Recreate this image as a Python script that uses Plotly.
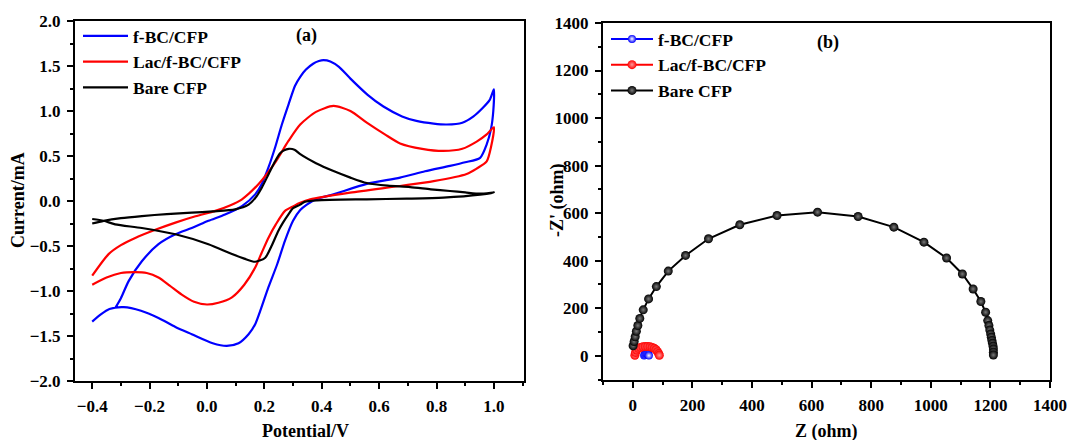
import plotly.graph_objects as go

# ---------------- (a) cyclic voltammetry data ----------------
fbc_x = [-0.32, -0.30, -0.273, -0.227, -0.169, -0.11, -0.053, 0.005, 0.063, 0.122, 0.168, 0.191, 0.214,
         0.238, 0.261, 0.285, 0.307, 0.325, 0.345, 0.37, 0.39, 0.406, 0.43, 0.46, 0.50, 0.56, 0.615, 0.68,
         0.73, 0.79, 0.836, 0.89, 0.929, 0.96, 0.985, 1.0,
         0.998, 0.99, 0.975, 0.952, 0.90, 0.847, 0.76, 0.673, 0.557, 0.441, 0.38, 0.348, 0.325, 0.30,
         0.272, 0.245, 0.214, 0.168, 0.145, 0.11, 0.069, 0.02, -0.053, -0.11, -0.169, -0.23, -0.29,
         -0.34, -0.37, -0.40]
fbc_y = [-1.19, -1.08, -0.89, -0.67, -0.48, -0.37, -0.30, -0.22, -0.15, -0.056, 0.074, 0.19, 0.37,
         0.60, 0.85, 1.08, 1.28, 1.38, 1.46, 1.525, 1.555, 1.565, 1.55, 1.49, 1.36, 1.18, 1.05, 0.94,
         0.89, 0.86, 0.85, 0.87, 0.94, 1.03, 1.12, 1.24,
         1.00, 0.80, 0.63, 0.48, 0.43, 0.39, 0.33, 0.26, 0.19, 0.074, 0.02, -0.04, -0.10, -0.22,
         -0.44, -0.70, -0.96, -1.37, -1.48, -1.58, -1.61, -1.58, -1.48, -1.40, -1.30, -1.22, -1.18,
         -1.20, -1.26, -1.34]

lac_x = [-0.40, -0.343, -0.30, -0.25, -0.18, -0.11, -0.04, 0.029, 0.08, 0.122, 0.18, 0.238, 0.284,
         0.325, 0.38, 0.441, 0.50, 0.557, 0.62, 0.673, 0.75, 0.824, 0.89, 0.94, 0.975, 1.0,
         0.99, 0.975, 0.94, 0.905, 0.79, 0.673, 0.499, 0.36, 0.325, 0.30, 0.272, 0.24, 0.214, 0.19,
         0.168, 0.13, 0.087, 0.04, 0.0, -0.045, -0.088, -0.13, -0.169, -0.21, -0.25, -0.30, -0.35, -0.40]
lac_y = [-0.83, -0.59, -0.49, -0.41, -0.32, -0.24, -0.17, -0.11, -0.05, 0.019, 0.19, 0.43, 0.667,
         0.85, 0.99, 1.056, 1.00, 0.87, 0.74, 0.64, 0.58, 0.556, 0.58, 0.66, 0.74, 0.82,
         0.60, 0.44, 0.36, 0.30, 0.22, 0.167, 0.093, 0.019, -0.02, -0.06, -0.11, -0.26, -0.41, -0.58,
         -0.74, -0.93, -1.07, -1.13, -1.15, -1.12, -1.04, -0.94, -0.85, -0.80, -0.79, -0.80, -0.85, -0.93]

bare_x = [-0.40, -0.36, -0.30, -0.227, -0.14, -0.053, 0.02, 0.098, 0.145, 0.17, 0.191, 0.215, 0.238,
          0.255, 0.267, 0.285, 0.305, 0.325, 0.38, 0.441, 0.50, 0.557, 0.63, 0.708, 0.78, 0.847, 0.90,
          0.952, 1.0,
          0.952, 0.824, 0.696, 0.557, 0.383, 0.34, 0.325, 0.30, 0.284, 0.265, 0.249, 0.225, 0.203,
          0.168, 0.13, 0.087, 0.005, -0.11, -0.227, -0.32, -0.36, -0.40]
bare_y = [-0.25, -0.22, -0.19, -0.167, -0.145, -0.13, -0.115, -0.093, -0.04, 0.04, 0.148, 0.30, 0.444,
          0.53, 0.56, 0.58, 0.57, 0.52, 0.42, 0.333, 0.26, 0.20, 0.17, 0.155, 0.13, 0.111, 0.095,
          0.081, 0.095,
          0.07, 0.037, 0.026, 0.019, 0.007, -0.01, -0.04, -0.08, -0.148, -0.24, -0.33, -0.50, -0.63,
          -0.675, -0.64, -0.59, -0.48, -0.37, -0.30, -0.26, -0.22, -0.20]

# ---------------- (b) Nyquist data ----------------
eis_fbc_z = [38, 40, 43, 46, 49, 52, 54]
eis_fbc_zi = [1, 5, 8, 9, 8, 5, 1]

eis_lac_z = [7, 9, 13, 19, 26, 34, 42, 50, 58, 65, 72, 78, 83, 87, 89]
eis_lac_zi = [2, 14, 24, 31, 35, 38, 39, 39, 38, 35, 31, 25, 17, 9, 2]

eis_bare_z = [1, 4.5, 8, 12, 17, 23.5, 35, 53, 79, 119, 177, 254, 359, 484, 620, 756, 876, 977, 1053,
              1106, 1142, 1168, 1184, 1191, 1195, 1198, 1201, 1203, 1205, 1207, 1209, 1210, 1210, 1210]
eis_bare_zi = [42, 60, 80, 103, 127, 157, 193, 239, 291, 356, 422, 492, 551, 590, 604, 586, 541, 478, 411,
               344, 281, 228, 183, 148, 127, 108, 91, 78, 64, 52, 40, 28, 15, 3]

series_names = ["f-BC/CFP", "Lac/f-BC/CFP", "Bare CFP"]
colors = ["#0000ff", "#ff0000", "#000000"]

FONT = "Liberation Serif, Times New Roman, serif"

fig = go.Figure()

cv_data = [(fbc_x, fbc_y), (lac_x, lac_y), (bare_x, bare_y)]
for (xs, ys), name, c in zip(cv_data, series_names, colors):
    fig.add_trace(go.Scatter(x=xs, y=ys, mode="lines", name=name,
                             line=dict(color=c, width=2.2, shape="spline", smoothing=0.7),
                             xaxis="x", yaxis="y", legend="legend"))

eis_data = [(eis_fbc_z, eis_fbc_zi), (eis_lac_z, eis_lac_zi), (eis_bare_z, eis_bare_zi)]
centers = ["#ffffff", "#ff9a9a", "#7a7a7a"]
sizes = [8, 9, 9]
for (xs, ys), name, c, cc, s in zip(eis_data, series_names, colors, centers, sizes):
    fig.add_trace(go.Scatter(x=xs, y=ys, mode="lines+markers", name=name,
                             line=dict(color=c, width=2),
                             marker=dict(color=c, size=s, line=dict(width=0),
                                         gradient=dict(type="radial", color=cc)),
                             xaxis="x2", yaxis="y2", legend="legend2"))

axis_common = dict(
    showline=True, linecolor="black", linewidth=2, mirror=True,
    ticks="outside", ticklen=6, tickwidth=2, tickcolor="black",
    showgrid=False, zeroline=False, ticklabelstandoff=3, automargin=False,
    tickfont=dict(family=FONT, size=17, color="black", weight="bold"),
)
minor_common = dict(ticks="outside", ticklen=3, tickwidth=2, tickcolor="black")

fig.update_layout(
    width=1070, height=440,
    margin=dict(l=0, r=0, t=0, b=0, autoexpand=False),
    paper_bgcolor="white", plot_bgcolor="white",
    font=dict(family=FONT, color="black"),
    showlegend=True,
    xaxis=dict(domain=[75 / 1070, 524 / 1070], range=[-0.46, 1.105], anchor="y",
               tick0=-0.4, dtick=0.2, tickformat=".1f",
               minor=dict(dtick=0.1, tick0=-0.4, **minor_common),
               **axis_common),
    yaxis=dict(domain=[1 - 381 / 440, 1 - 21 / 440], range=[-2.0, 2.0], anchor="x",
               dtick=0.5, tickformat=".1f",
               minor=dict(dtick=0.25, **minor_common),
               **axis_common),
    xaxis2=dict(domain=[603 / 1070, 1050 / 1070], range=[-100, 1400], anchor="y2",
                tick0=0, dtick=200,
                minor=dict(dtick=100, **minor_common),
                **axis_common),
    yaxis2=dict(domain=[1 - 379.5 / 440, 1 - 23 / 440], range=[-100, 1400], anchor="x2",
                tick0=0, dtick=200,
                minor=dict(dtick=100, **minor_common),
                **axis_common),
    legend=dict(x=78 / 1070, y=1 - 18 / 440, xanchor="left", yanchor="top",
                bgcolor="rgba(0,0,0,0)", borderwidth=0, itemwidth=45, tracegroupgap=0,
                font=dict(family=FONT, size=17.5, color="black", weight="bold")),
    legend2=dict(x=606 / 1070, y=1 - 21 / 440, xanchor="left", yanchor="top",
                 bgcolor="rgba(0,0,0,0)", borderwidth=0, itemwidth=42, tracegroupgap=0,
                 font=dict(family=FONT, size=17.5, color="black", weight="bold")),
)

ann_font = dict(family=FONT, size=18, color="black", weight="bold")
annotations = [
    dict(text="(a)", x=306 / 1070, y=1 - 35 / 440),
    dict(text="(b)", x=828 / 1070, y=1 - 42 / 440),
    dict(text="Potential/V", x=305 / 1070, y=1 - 431 / 440),
    dict(text="Z (ohm)", x=826 / 1070, y=1 - 431 / 440),
    dict(text="Current/mA", x=18 / 1070, y=1 - 200 / 440, textangle=-90),
    dict(text="-Z' (ohm)", x=557 / 1070, y=1 - 200 / 440, textangle=-90),
]
for a in annotations:
    fig.add_annotation(xref="paper", yref="paper", showarrow=False,
                       xanchor="center", yanchor="middle", font=ann_font, **a)

fig.write_html("out.html")
